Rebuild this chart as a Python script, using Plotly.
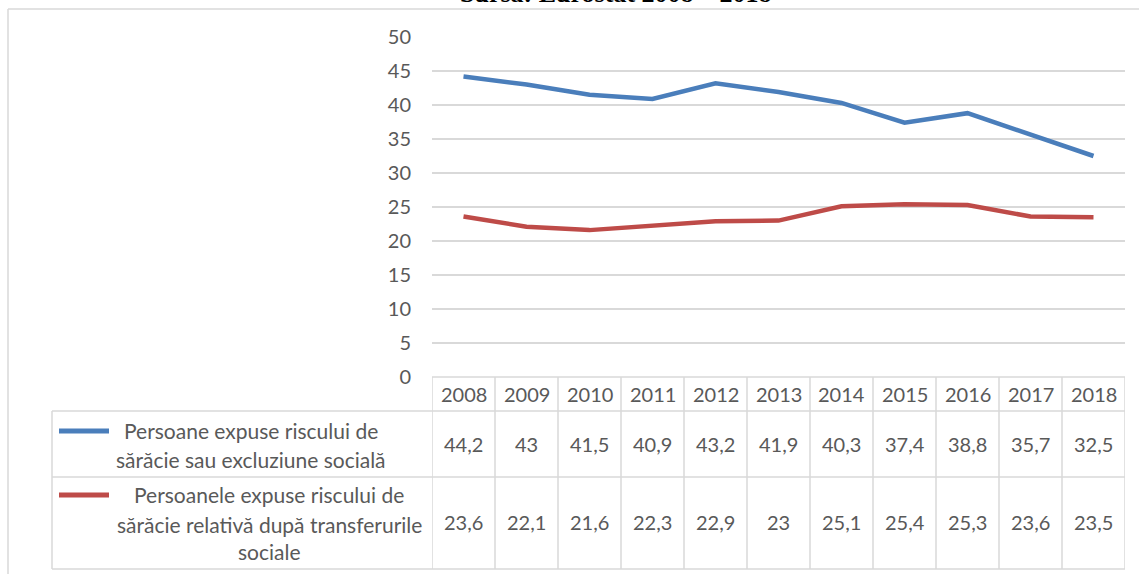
import plotly.graph_objects as go

# ---- data ----
years = [2008, 2009, 2010, 2011, 2012, 2013, 2014, 2015, 2016, 2017, 2018]
risk_poverty_exclusion = [44.2, 43, 41.5, 40.9, 43.2, 41.9, 40.3, 37.4, 38.8, 35.7, 32.5]
relative_poverty_after_transfers = [23.6, 22.1, 21.6, 22.3, 22.9, 23, 25.1, 25.4, 25.3, 23.6, 23.5]
series_names = [
    ["Persoane expuse riscului de", "sărăcie sau excluziune socială"],
    ["Persoanele expuse riscului de", "sărăcie relativă după transferurile", "sociale"],
]
y_ticks = [0, 5, 10, 15, 20, 25, 30, 35, 40, 45, 50]
title_text = "Sursa: Eurostat 2008 – 2018"

# ---- styling / layout ----
W, H = 1139, 574
L, R, T, B = 432, 1125, 37, 377
FONT = "Lato"
FS = 20
FS_LEG = 21
TXT = "#595959"
GRID = "#d9d9d9"
BLUE = "#4a7ebb"
RED = "#be4b48"
colors = [BLUE, RED]


def px(x):
    return (x - L) / (R - L)


def py(y):
    return (B - y) / (B - T)


def fmt(v):
    return str(int(v)) if float(v).is_integer() else str(v).replace(".", ",")


fig = go.Figure()
for vals, c, nm in zip([risk_poverty_exclusion, relative_poverty_after_transfers], colors, series_names):
    fig.add_trace(go.Scatter(x=years, y=vals, mode="lines", line=dict(color=c, width=4.5),
                             name=" ".join(nm), showlegend=False, hoverinfo="x+y"))

shapes = []
line_style = dict(color=GRID, width=1.5)
# outer chart border (top + left)
shapes.append(dict(type="line", xref="paper", yref="paper", x0=px(8), x1=px(1139), y0=py(9), y1=py(9), line=line_style))
shapes.append(dict(type="line", xref="paper", yref="paper", x0=px(8), x1=px(8), y0=py(9), y1=py(574), line=line_style))

# data table grid
row_tops = [377, 411, 477, 569]
shapes.append(dict(type="line", xref="paper", yref="paper", x0=px(L), x1=px(R), y0=py(377), y1=py(377), line=line_style))
for yy in row_tops[1:]:
    shapes.append(dict(type="line", xref="paper", yref="paper", x0=px(52), x1=px(R), y0=py(yy), y1=py(yy), line=line_style))
shapes.append(dict(type="line", xref="paper", yref="paper", x0=px(52), x1=px(52), y0=py(411), y1=py(569), line=line_style))
for yr in years:
    shapes.append(dict(type="line", xref="x", yref="paper", x0=yr - 0.5, x1=yr - 0.5, y0=py(377), y1=py(569), line=line_style))
shapes.append(dict(type="line", xref="x", yref="paper", x0=years[-1] + 0.5, x1=years[-1] + 0.5, y0=py(377), y1=py(569), line=line_style))

# legend keys in table
for c, ky in zip(colors, [431, 495]):
    shapes.append(dict(type="line", xref="paper", yref="paper", x0=px(59), x1=px(109), y0=py(ky), y1=py(ky),
                       line=dict(color=c, width=5)))

annotations = []
tfont = dict(family=FONT, size=FS, color=TXT)
lfont = dict(family=FONT, size=FS_LEG, color=TXT)
common = dict(showarrow=False, xanchor="center", yanchor="middle")
for yr in years:
    annotations.append(dict(x=yr, y=py(394), xref="x", yref="paper", text=str(yr), font=tfont, **common))
for vals, yc in zip([risk_poverty_exclusion, relative_poverty_after_transfers], [444, 522]):
    for yr, v in zip(years, vals):
        annotations.append(dict(x=yr, y=py(yc), xref="x", yref="paper", text=fmt(v), font=tfont, **common))

for lines, ys, xc in zip(series_names, [[431, 459], [494, 524, 551]], [251, 269]):
    for t, yy in zip(lines, ys):
        annotations.append(dict(x=px(xc), y=py(yy), xref="paper", yref="paper", text=t, font=lfont, **common))

# cut-off title at top
annotations.append(dict(x=px(616), y=py(9.5), xref="paper", yref="paper", xanchor="center", yanchor="bottom",
                        text="<b>" + title_text + "</b>", showarrow=False,
                        font=dict(family="Liberation Serif", size=26, color="black")))

fig.update_layout(
    width=W, height=H,
    margin=dict(l=L, r=W - R, t=T, b=H - B, pad=0),
    paper_bgcolor="white", plot_bgcolor="white",
    shapes=shapes, annotations=annotations,
    xaxis=dict(range=[years[0] - 0.5, years[-1] + 0.5], showgrid=False, showticklabels=False,
               zeroline=False, showline=False, ticks=""),
    yaxis=dict(range=[0, 50], tickvals=y_ticks, showgrid=True, gridcolor=GRID, gridwidth=1.5,
               zeroline=False, showline=False, ticks="", ticklabelstandoff=20,
               tickfont=dict(family=FONT, size=FS, color=TXT)),
)

fig.write_html("out.html", config={"displayModeBar": False},
               post_script="document.body.style.margin='0';document.body.style.padding='0';")
